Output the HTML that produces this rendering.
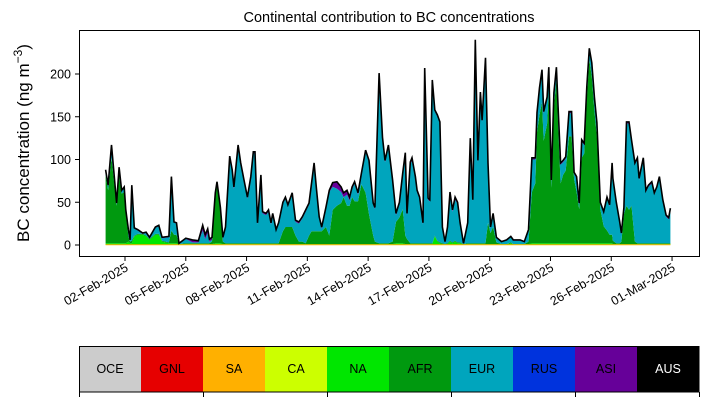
<!DOCTYPE html>
<html><head><meta charset="utf-8"><style>
body{margin:0;background:#fff;width:707px;height:402px;overflow:hidden}
svg{font-family:"Liberation Sans",sans-serif}
</style></head><body>
<svg id="c" width="707" height="402">
<text x="389" y="22" text-anchor="middle" font-size="14.5">Continental contribution to BC concentrations</text>
<text transform="translate(29,143) rotate(-90)" text-anchor="middle" font-size="17">BC concentration (ng m<tspan dy="-7" font-size="12">−3</tspan><tspan dy="7">)</tspan></text>
<g id="areas"></g>
<path id="totline" fill="none" stroke="#000" stroke-width="1.6"/>
<rect x="79.5" y="30.5" width="620" height="226" fill="none" stroke="#000" stroke-width="1"/>
<g id="yax"></g>
<g id="xax"></g>
<g id="legend"></g>
</svg>
<script>
const hours=[1,4,8,14,17,20,23,25,28,30,
32,35,39,45,49,53,60,64,68,76,
79,82,85,88,96,104,111,116,119,122,
124,127,131,133,137,140,143,148,151,153,
158,161,165,169,173,176,178,181,185,187,
191,194,197,199,203,206,211,214,217,222,
226,230,234,238,242,245,248,251,254,257,
262,266,270,275,280,283,287,290,293,296,
300,304,309,313,318,320,325,329,332,336,
341,345,349,353,356,358,362,364,368,370,
373,377,379,383,385,388,391,394,397,400,
403,406,409,412,415,418,421,425,430,433,
436,439,442,445,447,451,454,457,460,464,
470,476,481,484,492,497,502,506,510,512,
515,518,520,524,526,529,532,535,537,540,
543,546,550,553,556,559,562,565,568,571,
574,577,580,583,587,591,595,598,601,602,
606,610,612,615,618,621,624,628,631,633,
638,641,644,648,651,654,657,661,665,668,670];
const total=[88,70,117,49,91,64,68,41,18,6,
70,20,18,14,15,9,21,23,9,10,
80,27,26,2,8,6,5,23,12,19,
7,9,61,74,44,9,21,104,88,68,
117,96,76,56,80,109,109,26,82,39,
37,41,26,37,18,26,50,56,47,61,
29,27,33,41,49,73,96,64,33,21,
44,64,73,74,68,61,64,56,68,74,
61,84,111,99,49,44,201,126,99,117,
76,37,50,84,108,37,97,102,80,64,
56,26,207,55,53,193,158,152,144,21,
4,21,62,41,56,50,26,2,26,125,
53,240,99,179,146,219,96,21,37,9,
4,6,10,6,6,4,18,102,102,155,
184,205,156,173,208,76,178,208,161,96,
99,103,156,156,85,80,49,123,119,185,
230,213,173,143,50,39,56,47,96,78,
50,27,14,44,144,144,123,96,102,78,
102,64,70,74,61,68,80,53,35,32,43];
const afr=[80,62,100,44,80,58,60,37,6,2,
3,1,1,1,1,1,1,1,1,1,
15,10,10,0,1,1,1,1,1,1,
1,3,55,68,40,3,1,1,1,1,
1,1,1,1,1,1,1,1,1,1,
1,1,1,1,1,1,15,20,20,20,
10,3,3,1,10,15,15,15,15,15,
20,10,40,45,48,55,45,45,55,50,
50,70,60,35,10,3,1,1,1,1,
3,25,30,40,10,6,1,1,1,1,
1,1,1,1,1,1,1,1,1,1,
0,1,1,1,1,1,1,0,1,1,
1,1,1,1,1,1,25,13,20,2,
0,0,1,0,0,0,3,60,70,130,
150,165,120,140,180,65,160,190,140,70,
80,85,125,125,75,60,40,100,105,170,
215,195,155,125,40,20,15,10,10,4,
1,1,3,35,45,40,45,3,1,1,
1,1,1,1,1,1,1,1,1,1,1];
const na=[2,2,2,2,2,2,2,2,4,2,
2,10,12,12,10,6,12,12,4,2,
2,2,2,1,1,1,1,1,1,1,
1,1,2,2,2,1,1,1,1,1,
1,1,1,1,1,1,1,1,1,1,
1,1,1,1,1,1,1,1,1,1,
1,1,1,1,1,1,1,1,1,1,
1,1,1,1,1,1,1,1,1,1,
1,1,1,1,1,1,1,1,1,1,
1,2,2,2,1,1,1,1,1,1,
1,1,1,1,1,1,10,4,2,1,
1,1,4,2,4,2,2,1,1,1,
1,1,1,1,1,1,1,1,1,1,
1,1,2,1,1,1,1,2,2,2,
2,2,2,2,2,2,2,2,2,2,
2,2,2,2,2,2,2,2,2,2,
2,2,2,2,2,2,2,2,2,1,
1,1,1,1,1,1,1,1,1,1,
1,1,1,1,1,1,1,1,1,1,1];
const asi=[1,1,1,1,1,1,1,1,1,1,
1,1,1,1,1,1,1,1,1,1,
1,1,1,0,1,3,2,6,5,5,
3,3,1,1,1,1,1,3,3,3,
3,3,3,2,2,2,2,2,2,2,
2,2,2,2,2,2,2,2,2,2,
2,2,2,2,2,2,2,2,2,2,
2,2,5,8,6,5,5,4,3,2,
2,2,2,2,2,2,2,2,2,2,
2,2,2,2,2,2,2,4,3,3,
2,2,2,2,2,2,2,2,2,1,
1,1,4,2,3,2,2,0,1,2,
2,2,2,2,2,2,2,1,1,1,
0,1,1,1,1,1,1,2,2,2,
2,2,2,2,2,2,2,2,2,2,
2,2,2,2,2,2,2,2,2,2,
2,2,2,2,2,2,2,2,2,2,
2,2,1,1,2,2,2,2,2,2,
2,2,2,2,2,2,2,2,2,2,3];
const regions=["OCE","GNL","SA","CA","NA","AFR","EUR","RUS","ASI","AUS"];
const regionColors=["#cccccc","#e60000","#ffb000","#ccff00","#00e600","#00990f","#00a5bd","#0033dd","#660099","#000000"];
const yTicks=[0,50,100,150,200];
const xTickHours=[24,96,168,240,312,384,456,528,600,672];
const xTickLabels=["02-Feb-2025","05-Feb-2025","08-Feb-2025","11-Feb-2025","14-Feb-2025","17-Feb-2025","20-Feb-2025","23-Feb-2025","26-Feb-2025","01-Mar-2025"];

const NS="http://www.w3.org/2000/svg";
const X=h=>125+(h-24)*0.8442;
const Y=v=>245-v*0.855;
function mk(t,a,p){const e=document.createElementNS(NS,t);for(const k in a)e.setAttribute(k,a[k]);p.appendChild(e);return e;}

const n=hours.length;
const layers=[na.slice(),[],[],asi.slice()];
for(let i=0;i<n;i++){
  let a=Math.min(afr[i],Math.max(0,total[i]-na[i]-asi[i]));
  layers[1][i]=a;
  layers[2][i]=Math.max(0,total[i]-na[i]-a-asi[i]);
}
const layerColors=[regionColors[4],regionColors[5],regionColors[6],regionColors[8]];
const layerNames=["area-na","area-afr","area-eur","area-asi"];
const areas=document.getElementById('areas');
let base=new Array(n).fill(0);
layers.forEach((L,k)=>{
  const top=base.map((b,i)=>b+L[i]);
  let d="M"+hours.map((h,i)=>X(h).toFixed(1)+","+Y(top[i]).toFixed(1)).join("L");
  for(let i=n-1;i>=0;i--)d+="L"+X(hours[i]).toFixed(1)+","+Y(base[i]).toFixed(1);
  const p=mk('path',{d:d+"Z",fill:layerColors[k]},areas);
  
  
  base=top;
});
const sa=mk('path',{d:"M"+hours.map(h=>X(h).toFixed(1)+","+Y(0.4).toFixed(1)).join("L"),stroke:regionColors[2],"stroke-width":1,fill:"none"},areas);


document.getElementById('totline').setAttribute('d',"M"+hours.map((h,i)=>X(h).toFixed(1)+","+Y(total[i]).toFixed(1)).join("L"));

const yax=document.getElementById('yax');
yTicks.forEach(v=>{
  const y=Y(v);
  const l=mk('line',{x1:75,x2:79.5,y1:y,y2:y,stroke:"#000"},yax);
  
  
  const t=mk('text',{x:71,y:y+4.5,"text-anchor":"end","font-size":"12.5"},yax);
  t.textContent=v;
  
  
});
const xax=document.getElementById('xax');
xTickHours.forEach((h,i)=>{
  const x=X(h);
  const l=mk('line',{x1:x,x2:x,y1:256.5,y2:261,stroke:"#000"},xax);
  
  
  const t=mk('text',{x:0,y:0,"text-anchor":"end","font-size":"12.5",transform:`translate(${x+4},${270}) rotate(-30)`},xax);
  t.textContent=xTickLabels[i];
  
  
});
const lg=document.getElementById('legend');
const cw=62;
regions.forEach((r,i)=>{
  const x=79+i*cw;
  const rc=mk('rect',{x:x,y:346,width:cw,height:46,fill:regionColors[i]},lg);
  
  
  const t=mk('text',{x:x+cw/2,y:373,"text-anchor":"middle","font-size":"12.5",fill:r==="AUS"?"#fff":"#000"},lg);
  t.textContent=r;
  
  
});
mk('rect',{x:79.5,y:346.5,width:619.5,height:45.5,fill:"none",stroke:"#000"},lg);
[0,2,4,6,8,10].forEach(k=>{
  const x=79.5+k*cw;
  const l=mk('line',{x1:x,x2:x,y1:392,y2:397,stroke:"#000"},lg);
  
  
});
</script>
</body></html>
